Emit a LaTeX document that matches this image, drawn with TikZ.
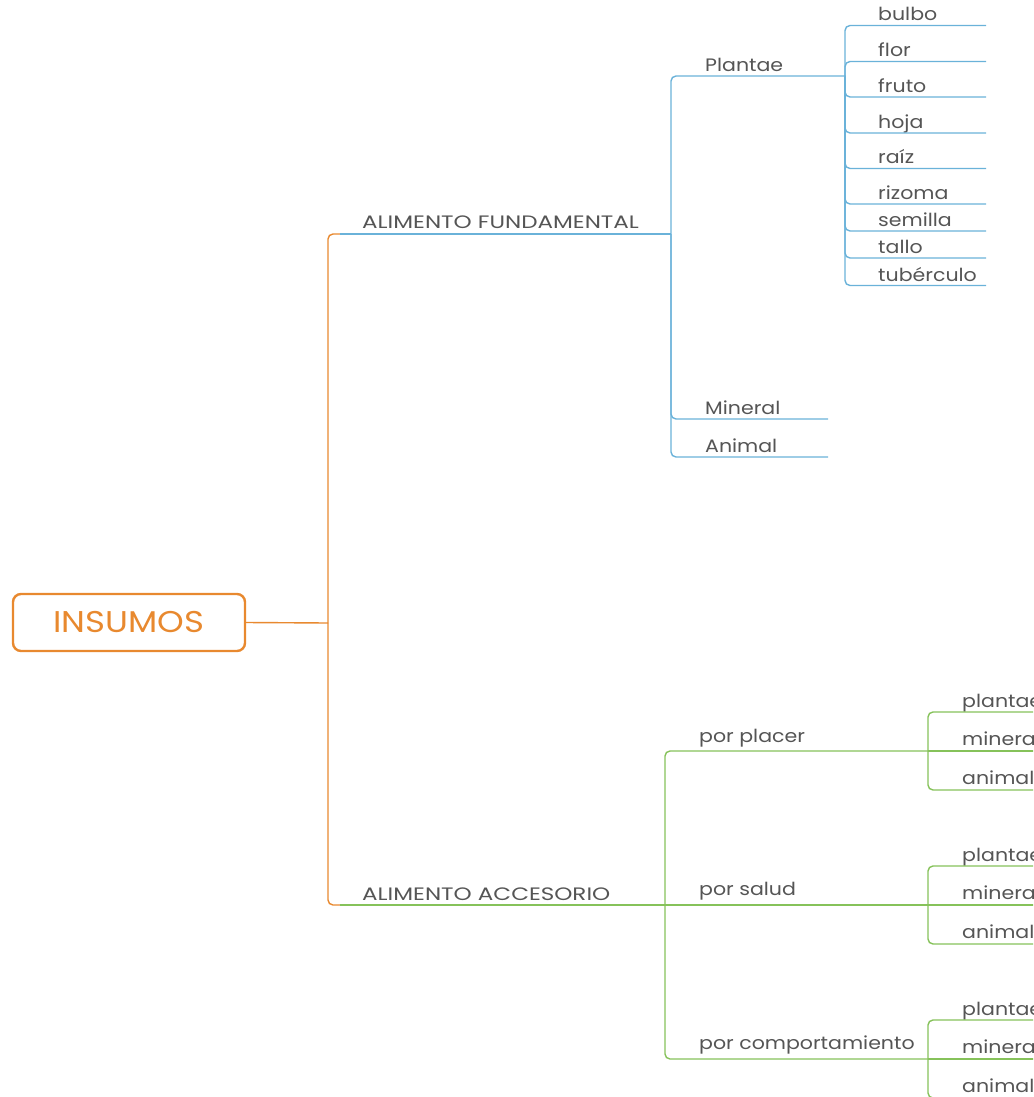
\documentclass[tikz,border=0pt]{standalone}
\usepackage{fontspec}
\setmainfont{Poppins}
\newfontfamily\mmcapsfont[FakeStretch=1.28]{Poppins}
\newfontfamily\mmlabelfont[FakeStretch=1.14]{Poppins}
\newfontfamily\mmrootfont[FakeStretch=1.13]{Poppins}
\begin{document}
\definecolor{rootc}{HTML}{E8892F}
\definecolor{bluec}{HTML}{6AB2D9}
\definecolor{greenc}{HTML}{86C25A}
\definecolor{txtc}{HTML}{555555}
\begin{tikzpicture}[x=1pt,y=-1pt,
  lbl/.style={anchor=base west,inner sep=0pt,text=txtc,font=\mmlabelfont\fontsize{18}{18}\selectfont},
  mainlbl/.style={lbl,font=\mmcapsfont\fontsize{18}{18}\selectfont},
  rootbox/.style={draw=rootc,line width=2.4pt,rounded corners=8pt,minimum width=232pt,minimum height=57pt,inner sep=0pt,text=rootc,font=\mmrootfont\fontsize{30}{30}\selectfont},
  oline/.style={draw=rootc,line width=1.4pt,rounded corners=5pt},
  bline/.style={draw=bluec,line width=1.4pt,rounded corners=5pt},
  gline/.style={draw=greenc,line width=1.4pt,rounded corners=5pt}]
\useasboundingbox (0,0) rectangle (1033,1097);
\clip (0,0) rectangle (1033,1097);

% root topic
\node[rootbox] (root) at (129,622.5) {INSUMOS};
\coordinate (hub) at (328,623);

% main topics
\node[mainlbl] (af) at (362,228) {ALIMENTO FUNDAMENTAL};
\coordinate (af-s) at (340,234);
\coordinate (af-e) at (671,234);
\node[mainlbl] (ac) at (362,900) {ALIMENTO ACCESORIO};
\coordinate (ac-s) at (340,905);
\coordinate (ac-e) at (665,905);

\draw[oline] (root.east) -- (hub);
\draw[oline] (hub) |- (af-s);
\draw[oline] (hub) |- (ac-s);
\draw[bline] (af-s) -- (af-e);
\draw[gline] (ac-s) -- (ac-e);

% Alimento fundamental
\node[lbl] (pl) at (705,72) {Plantae};
\coordinate (pl-e) at (845,76);
\node[lbl] (mi) at (705,414) {Mineral};
\coordinate (mi-e) at (828,419);
\node[lbl] (an) at (705,452) {Animal};
\coordinate (an-e) at (828,457);
\draw[bline] (af-e) |- (pl-e);
\draw[bline] (af-e) |- (mi-e);
\draw[bline] (af-e) |- (an-e);

\foreach \name/\txt/\yy in {l1/bulbo/25.5, l2/flor/61.5, l3/fruto/97, l4/hoja/133,
    l5/raíz/168.5, l6/rizoma/204, l7/semilla/231, l8/tallo/258, l9/tubérculo/285.5}{
  \node[lbl] (\name) at (878,\yy-4.5) {\txt};
  \coordinate (\name-e) at (986,\yy);
  \draw[bline] (pl-e) |- (\name-e);
}

% Alimento accesorio
\node[lbl] (pp) at (699,742) {por placer};
\coordinate (pp-e) at (928,751);
\node[lbl] (ps) at (699,895) {por salud};
\coordinate (ps-e) at (928,905);
\node[lbl] (pc) at (699,1049) {por comportamiento};
\coordinate (pc-e) at (928,1059);
\draw[gline] (ac-e) |- (pp-e);
\draw[gline] (ac-e) -- (ps-e);
\draw[gline] (ac-e) |- (pc-e);

\foreach \pn/\yy in {pp/751, ps/905, pc/1059}{
  \node[lbl] (\pn-1) at (962,\yy-43.5) {plantae};
  \coordinate (\pn-1e) at (1040,\yy-39);
  \node[lbl] (\pn-2) at (962,\yy-5.5) {mineral};
  \coordinate (\pn-2e) at (1040,\yy);
  \node[lbl] (\pn-3) at (962,\yy+33.5) {animal};
  \coordinate (\pn-3e) at (1040,\yy+39);
  \draw[gline] (\pn-e) |- (\pn-1e);
  \draw[gline] (\pn-e) -- (\pn-2e);
  \draw[gline] (\pn-e) |- (\pn-3e);
}
\end{tikzpicture}
\end{document}
